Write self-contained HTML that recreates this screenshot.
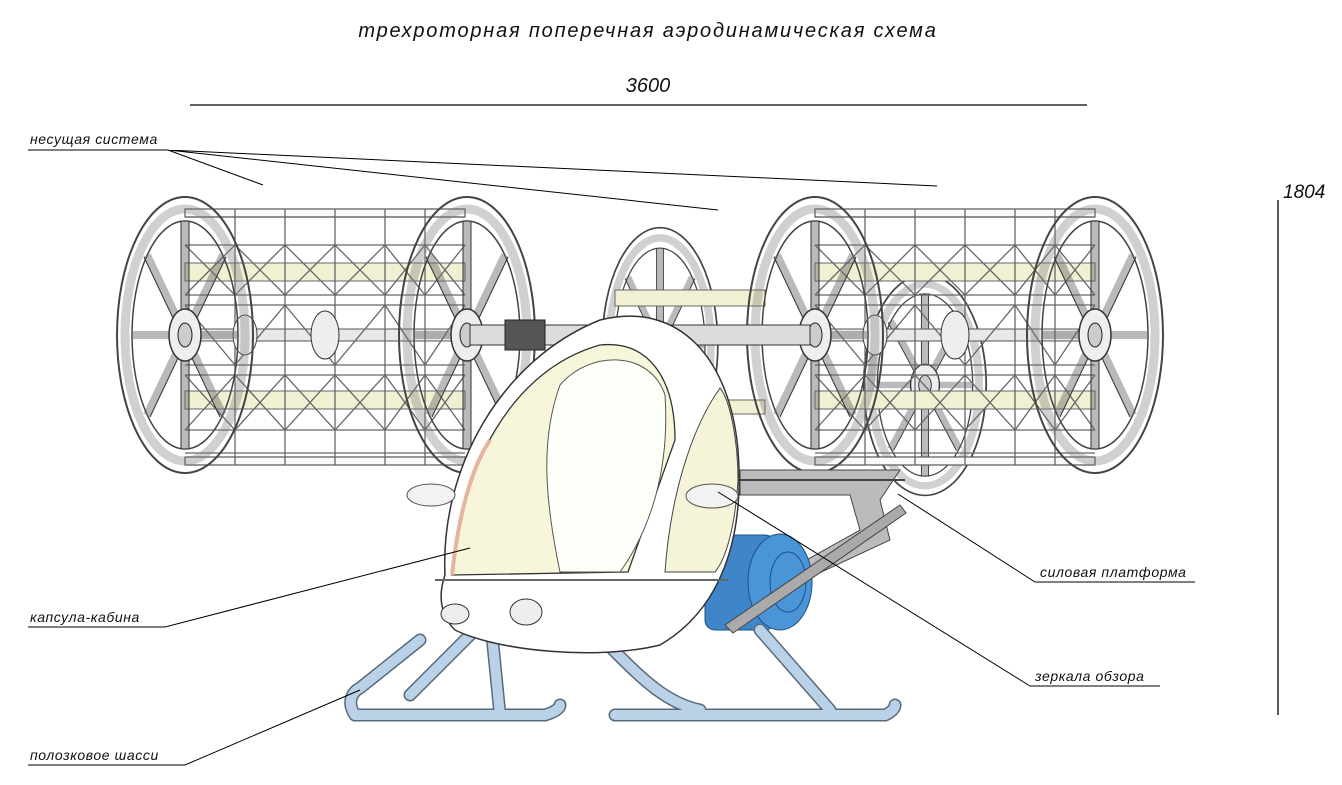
<!DOCTYPE html>
<html><head><meta charset="utf-8"><style>
html,body{margin:0;padding:0;background:#fff;}
body{width:1342px;height:785px;overflow:hidden;position:relative;}
svg{position:absolute;left:0;top:0;}
text{font-family:"Liberation Sans",sans-serif;font-style:italic;fill:#111;}
</style></head><body>
<svg width="1342" height="785" viewBox="0 0 1342 785">
<defs>
<g id="disk">
 <ellipse cx="0" cy="0" rx="68" ry="138" fill="none" stroke="#444" stroke-width="2"/>
 <ellipse cx="0" cy="0" rx="60" ry="126" fill="none" stroke="#777" stroke-width="9" stroke-opacity="0.35"/>
 <ellipse cx="0" cy="0" rx="53" ry="114" fill="none" stroke="#444" stroke-width="1.5"/>
 <g stroke="#666" stroke-width="8" stroke-opacity="0.45">
  <line x1="0" y1="-114" x2="0" y2="114"/><line x1="-53" y1="0" x2="53" y2="0"/>
  <line x1="-38" y1="-80" x2="38" y2="80"/><line x1="38" y1="-80" x2="-38" y2="80"/>
 </g>
 <g stroke="#333" stroke-width="1">
  <line x1="-4" y1="-114" x2="-4" y2="114"/><line x1="4" y1="-114" x2="4" y2="114"/>
  <line x1="-41" y1="-78" x2="35" y2="82"/><line x1="41" y1="-78" x2="-35" y2="82"/>
 </g>
 <ellipse cx="0" cy="0" rx="16" ry="26" fill="#eee" stroke="#333" stroke-width="1.5"/>
 <ellipse cx="0" cy="0" rx="7" ry="12" fill="#ccc" stroke="#222"/>
</g>
<g id="drum">
 <g stroke="#555" stroke-width="1.2" fill="#fafafa">
  <rect x="0" y="-126" width="280" height="8"/>
  <rect x="0" y="122" width="280" height="8"/>
 </g>
 <rect x="0" y="-72" width="280" height="18" fill="#f1f0d2" stroke="#666"/>
 <rect x="0" y="56" width="280" height="18" fill="#f1f0d2" stroke="#666"/>
 <rect x="0" y="-6" width="280" height="12" fill="#e8e8e8" stroke="#555"/>
 <g stroke="#666" stroke-width="1.3" fill="none">
  <path d="M0,-118 L280,-118 M0,-90 L280,-90 M0,-40 L280,-40 M0,-30 L280,-30 M0,30 L280,30 M0,40 L280,40 M0,95 L280,95 M0,118 L280,118"/>
  <path d="M50,-126 V130 M100,-126 V130 M150,-126 V130 M200,-126 V130 M240,-126 V130"/>
  <path d="M0,-90 L50,-40 L100,-90 L150,-40 L200,-90 L240,-40 L280,-90"/>
  <path d="M0,-40 L50,-90 L100,-40 L150,-90 L200,-40 L240,-90 L280,-40"/>
  <path d="M0,40 L50,95 L100,40 L150,95 L200,40 L240,95 L280,40"/>
  <path d="M0,95 L50,40 L100,95 L150,40 L200,95 L240,40 L280,95"/>
  <path d="M0,-30 L50,30 L100,-30 L150,30 L200,-30 L240,30 L280,-30"/>
 </g>
 <ellipse cx="140" cy="0" rx="14" ry="24" fill="#eee" stroke="#333"/>
 <ellipse cx="60" cy="0" rx="12" ry="20" fill="#eee" stroke="#444"/>
</g>
</defs>

<text x="648" y="37" font-size="20" text-anchor="middle" letter-spacing="1.8">трехроторная поперечная аэродинамическая схема</text>
<text x="648" y="92" font-size="20" text-anchor="middle">3600</text>
<line x1="190" y1="105" x2="1087" y2="105" stroke="#000" stroke-width="1.3"/>
<text x="1283" y="198" font-size="19">1804</text>
<line x1="1278" y1="200" x2="1278" y2="715" stroke="#000" stroke-width="1.3"/>

<use href="#disk" transform="translate(660,345) scale(0.85,0.85)"/>
<rect x="615" y="290" width="150" height="16" fill="#f1f0d2" stroke="#666"/>
<rect x="615" y="400" width="150" height="14" fill="#f1f0d2" stroke="#666"/>
<use href="#disk" transform="translate(925,385) scale(0.9,0.8)"/>

<use href="#drum" transform="translate(185,335)"/>
<use href="#disk" transform="translate(185,335)"/>
<use href="#disk" transform="translate(467,335)"/>
<use href="#drum" transform="translate(815,335)"/>
<use href="#disk" transform="translate(815,335)"/>
<use href="#disk" transform="translate(1095,335)"/>

<rect x="470" y="325" width="340" height="20" fill="#ddd" stroke="#333"/>
<rect x="505" y="320" width="40" height="30" fill="#555" stroke="#222"/>

<path d="M740,470 L900,470 L880,500 L890,540 L740,610 L735,600 L860,530 L850,495 L740,495 Z" fill="#bbb" stroke="#444"/>
<path d="M735,480 L905,480" stroke="#444" stroke-width="2"/>
<rect x="705" y="535" width="70" height="95" rx="10" fill="#3e86c9" stroke="#1f4f80"/>
<ellipse cx="780" cy="582" rx="32" ry="48" fill="#4a95d8" stroke="#1f4f80"/>
<ellipse cx="788" cy="582" rx="18" ry="30" fill="none" stroke="#1f4f80"/>
<path d="M725,625 L900,505 L906,513 L733,633 Z" fill="#aaa" stroke="#444"/>

<g fill="none" stroke-linecap="round">
 <g stroke="#5a6a7a" stroke-width="13">
  <path d="M355,715 H545 M615,715 H885"/>
  <path d="M355,715 C345,700 355,690 360,688 L420,640"/>
  <path d="M410,695 L490,615 L500,715"/>
  <path d="M570,610 C620,650 650,700 700,710"/>
  <path d="M760,630 L830,710"/>
  <path d="M545,715 C555,712 560,708 560,705 M885,715 C892,712 895,708 895,705"/>
 </g>
 <g stroke="#b9d2e8" stroke-width="10">
  <path d="M355,715 H545 M615,715 H885"/>
  <path d="M355,715 C345,700 355,690 360,688 L420,640"/>
  <path d="M410,695 L490,615 L500,715"/>
  <path d="M570,610 C620,650 650,700 700,710"/>
  <path d="M760,630 L830,710"/>
  <path d="M545,715 C555,712 560,708 560,705 M885,715 C892,712 895,708 895,705"/>
 </g>
</g>

<path d="M445,575 C440,470 500,360 600,320 C680,300 730,360 738,450 C745,540 720,610 660,645 C600,660 500,652 455,630 C440,615 438,595 445,575 Z" fill="#fff" stroke="#333" stroke-width="1.5"/>
<path d="M452,575 C460,470 510,370 600,345 C650,340 675,380 675,440 L628,572 Z" fill="#f7f6da" stroke="#333" stroke-width="1.3"/>
<path d="M560,385 C590,350 650,350 665,395 C670,470 650,530 620,572 L560,572 C545,500 540,440 560,385 Z" fill="#fffffa" stroke="#555"/>
<path d="M452,575 C458,520 470,470 490,440" stroke="#e4b49e" stroke-width="4" fill="none"/>
<path d="M720,388 C730,400 738,440 738,480 C735,530 725,560 715,572 L665,572 C670,500 690,430 720,388 Z" fill="#f5f4d8" stroke="#444"/>
<path d="M435,580 L728,580" stroke="#666" stroke-width="2"/>
<ellipse cx="455" cy="614" rx="14" ry="10" fill="#eee" stroke="#333"/>
<ellipse cx="526" cy="612" rx="16" ry="13" fill="#eee" stroke="#333"/>
<ellipse cx="431" cy="495" rx="24" ry="11" fill="#f2f2f2" stroke="#555"/>
<ellipse cx="712" cy="496" rx="26" ry="12" fill="#f2f2f2" stroke="#555"/>

<g stroke="#000" stroke-width="1" fill="none">
 <path d="M28,150 H168 L263,185 M168,150 L718,210 M168,150 L937,186"/>
 <path d="M28,627 H165 L470,548"/>
 <path d="M28,765 H185 L360,690"/>
 <path d="M1195,582 H1035 L898,494"/>
 <path d="M1160,686 H1030 L718,492"/>
</g>
<text x="30" y="144" font-size="14" letter-spacing="0.6">несущая система</text>
<text x="30" y="622" font-size="14" letter-spacing="0.6">капсула-кабина</text>
<text x="30" y="760" font-size="14" letter-spacing="0.6">полозковое шасси</text>
<text x="1040" y="577" font-size="14" letter-spacing="0.6">силовая платформа</text>
<text x="1035" y="681" font-size="14" letter-spacing="0.6">зеркала обзора</text>
</svg>
</body></html>
